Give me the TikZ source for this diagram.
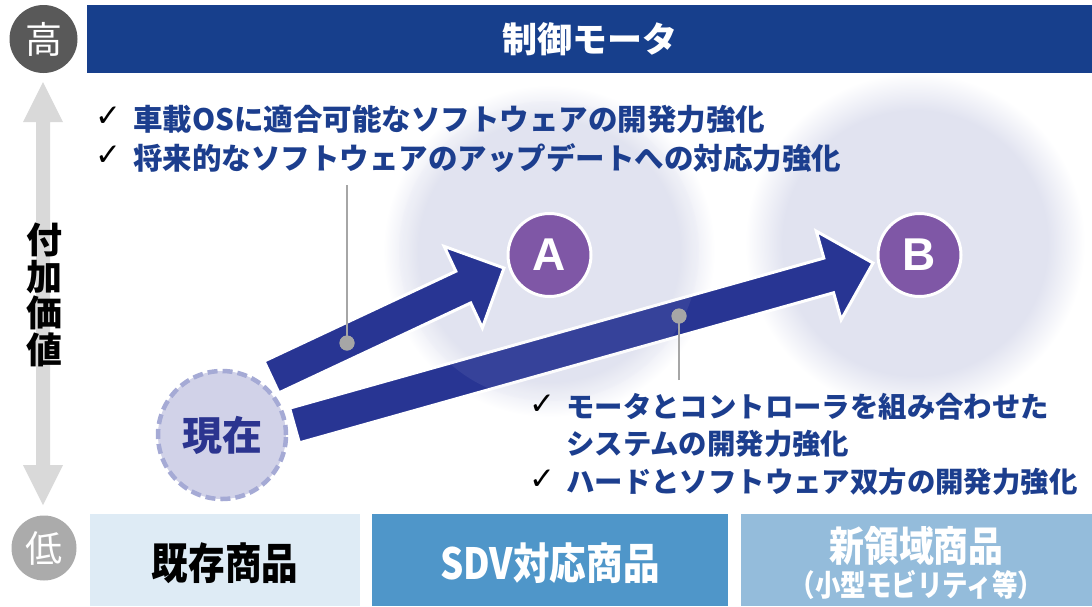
\documentclass[tikz,border=0pt]{standalone}
\usepackage{fontspec}
\setmainfont{Noto Sans CJK JP}
\newfontfamily\jpc{Noto Sans CJK JP}[FakeStretch=0.85]
\newfontfamily\dv{DejaVu Sans}
\newfontfamily\ls{Liberation Sans}
\usetikzlibrary{calc}
\definecolor{barblue}{HTML}{173F8C}
\definecolor{txtblue}{HTML}{1C3E8E}
\definecolor{navy}{HTML}{283593}
\definecolor{purp}{HTML}{7F57A6}
\definecolor{glowc}{HTML}{E1E3F0}
\definecolor{nowfill}{HTML}{D1D2E8}
\definecolor{nowdash}{HTML}{A5AAD5}
\definecolor{nowtxt}{HTML}{2B348F}
\definecolor{hicirc}{HTML}{595959}
\definecolor{locirc}{HTML}{ABABAB}
\definecolor{axisgray}{HTML}{D9D9D9}
\definecolor{callgray}{HTML}{A6A6A6}
\definecolor{boxa}{HTML}{DEEBF5}
\definecolor{boxb}{HTML}{4F96C9}
\definecolor{boxc}{HTML}{94BCDB}
\pgfdeclareradialshading{glow}{\pgfpoint{0bp}{0bp}}{color(0bp)=(glowc);color(19.5bp)=(glowc);color(25bp)=(white);color(50bp)=(white)}
\tikzset{
  blockarr/.style={fill=navy, draw=white, line width=3pt, line join=miter},
  bluetxt/.style={inner sep=0pt, anchor=west, text=txtblue, font=\bfseries\fontsize{29.5}{34}\selectfont},
  bluetxtb/.style={bluetxt, font=\bfseries\fontsize{28.4}{34}\selectfont},
  chk/.style={inner sep=0pt, text=black, font=\dv\bfseries\fontsize{31}{32}\selectfont},
  levelc/.style={circle, inner sep=0pt, text=white, font=\fontsize{37}{38}\selectfont},
  lettc/.style={circle, fill=purp, draw=white, line width=3pt, minimum size=83pt, inner sep=0pt, text=white, font=\ls\bfseries\fontsize{46}{48}\selectfont},
  calldot/.style={circle, fill=callgray, minimum size=15pt, inner sep=0pt},
  callline/.style={draw=callgray, line width=1.5pt},
  prodtxt/.style={inner sep=0pt, font=\jpc\bfseries\fontsize{43}{44}\selectfont}
}
\begin{document}
\begin{tikzpicture}[x=1pt,y=-1pt]
\useasboundingbox (0,0) rectangle (1092,606);
\fill[white] (0,0) rectangle (1092,606);
% glows
\shade[shading=glow] (915,243) circle [radius=170];
\shade[shading=glow] (549,251) circle [radius=166];
% top bar
\node[fill=barblue, minimum width=1005pt, minimum height=68pt, inner sep=0pt, anchor=north west] (bar) at (87,5) {};
\node[text=white, font=\bfseries\fontsize{35}{36}\selectfont, inner sep=0pt] (bartxt) at (bar.center) {制御モータ};
% level circles
\node[levelc, fill=hicirc, minimum size=68pt] (hi) at (43.5,39) {高};
\node[levelc, fill=locirc, minimum size=65pt] (lo) at (44,548) {低};
% vertical axis arrow
\fill[axisgray] (43,82) -- (63,122) -- (50,122) -- (50,465) -- (63,465) -- (43,505) -- (23,465) -- (36,465) -- (36,122) -- (23,122) -- cycle;
\node[inner sep=0pt, align=center, font=\bfseries\fontsize{36}{36.5}\selectfont] (axlbl) at (44.5,295) {付\\加\\価\\値};
% now node
\node[circle, fill=nowfill, draw=nowdash, line width=4.5pt, dash pattern=on 10pt off 5pt, minimum size=128pt, inner sep=0pt, text=nowtxt, font=\bfseries\fontsize{40}{42}\selectfont] (now) at (222,435) {現在};
% arrow B
\coordinate (bT) at (294.5,425.5);
\coordinate (bP) at (873,263);
\coordinate (bH) at ($(bP)!46pt!(bT)$);
\filldraw[blockarr] ($(bT)!18pt!90:(bP)$) -- ($(bH)!18pt!90:(bP)$) -- ($(bH)!46pt!90:(bP)$) -- (bP) -- ($(bH)!46pt!-90:(bP)$) -- ($(bH)!18pt!-90:(bP)$) -- ($(bT)!18pt!-90:(bP)$) -- cycle;
% faint glow overlay over arrow B
\fill[glowc, opacity=0.08] (549,251) circle [radius=150];
% arrow A
\coordinate (aT) at (271.5,377);
\coordinate (aP) at (504,268);
\coordinate (aH) at ($(aP)!45pt!(aT)$);
\filldraw[blockarr] ($(aT)!17.5pt!90:(aP)$) -- ($(aH)!17.5pt!90:(aP)$) -- ($(aH)!45pt!90:(aP)$) -- (aP) -- ($(aH)!45pt!-90:(aP)$) -- ($(aH)!17.5pt!-90:(aP)$) -- ($(aT)!17.5pt!-90:(aP)$) -- cycle;
% A and B
\node[lettc] (A) at (549.5,255) {A};
\node[lettc] (B) at (919.5,255) {B};
% callouts
\coordinate (c1top) at (347,185);
\node[calldot] (d1) at (347,343) {};
\draw[callline] (c1top) -- (d1.center);
\node[calldot] at (d1) {};
\coordinate (c2bot) at (679,380);
\node[calldot] (d2) at (679,316) {};
\draw[callline] (c2bot) -- (d2.center);
\node[calldot] at (d2) {};
% text block 1
\node[chk] (k1) at (108,117) {✓};
\node[bluetxt] (t1) at (133,119) {車載OSに適合可能なソフトウェアの開発力強化};
\node[chk] (k2) at (108,156) {✓};
\node[bluetxt] (t2) at (133,158) {将来的なソフトウェアのアップデートへの対応力強化};
% text block 2
\node[chk] (k3) at (542,405) {✓};
\node[bluetxtb] (t3) at (566,407) {モータとコントローラを組み合わせた};
\node[bluetxtb] (t4) at (566,444) {システムの開発力強化};
\node[chk] (k4) at (542,480) {✓};
\node[bluetxtb] (t5) at (566,482) {ハードとソフトウェア双方の開発力強化};
% bottom boxes
\fill[boxa] (90,514) rectangle (360,606);
\fill[boxb] (372,514) rectangle (728,606);
\fill[boxc] (741,514) rectangle (1092,606);
\node[prodtxt, text=black] (p1) at (225,563) {既存商品};
\node[prodtxt, text=white] (p2) at (550,563) {SDV対応商品};
\node[prodtxt, text=white, font=\jpc\bfseries\fontsize{41}{42}\selectfont] (p3) at (916.5,546) {新領域商品};
\node[prodtxt, text=white, font=\jpc\bfseries\fontsize{30}{32}\selectfont] (p3b) at (916.5,585) {（小型モビリティ等）};
\end{tikzpicture}
\end{document}
